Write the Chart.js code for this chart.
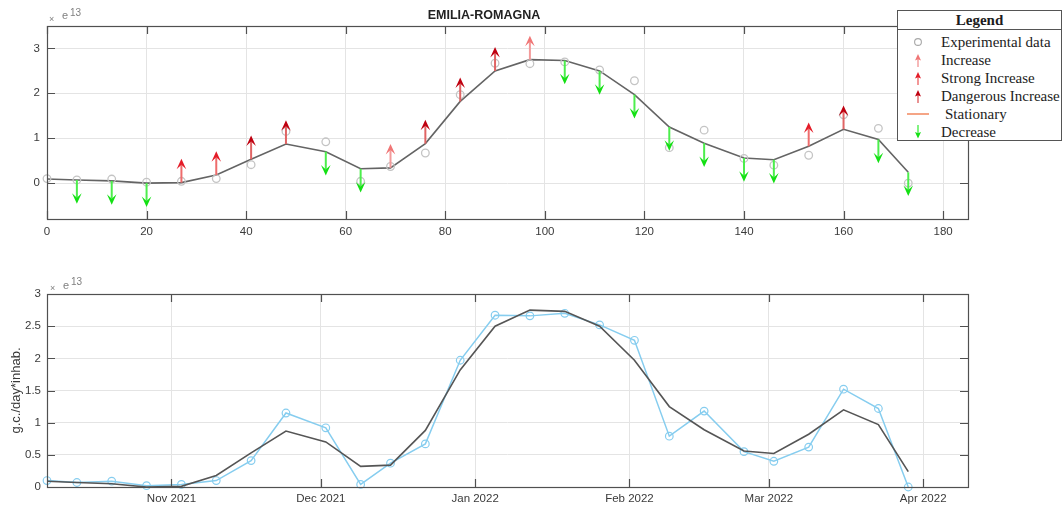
<!DOCTYPE html>
<html>
<head>
<meta charset="utf-8">
<title>EMILIA-ROMAGNA</title>
<script src="https://cdn.jsdelivr.net/npm/chart.js@4.4.1/dist/chart.umd.min.js"></script>
<style>
  html, body { margin: 0; padding: 0; background: #fff; }
  #wrap { position: relative; width: 1062px; height: 511px; overflow: hidden; font-family: "Liberation Sans", Arial, sans-serif; }
  canvas { position: absolute; left: 0; }
  #topChart { top: 0; }
  #bottomChart { top: 250px; }
  .mult { position: absolute; color: #808080; line-height: 1; white-space: nowrap; }
  .legend { position: absolute; left: 897px; top: 10px; width: 163px; height: 129px; border: 1px solid #555; background: #fff;
            font-family: "Liberation Serif", "Times New Roman", serif; color: #1c1c1c; z-index: 2; }
  .legend .head { height: 18px; line-height: 18px; border-bottom: 1px solid #555; text-align: center; font-weight: bold; font-size: 15px; }
  .legend .rows { padding-top: 3px; }
  .legend .row { position: relative; height: 18px; line-height: 18px; font-size: 15px; }
  .legend .row svg { position: absolute; left: 8px; top: 0; }
  .legend .row span { position: absolute; left: 43px; top: 0; white-space: nowrap; }
</style>
</head>
<body>
<div id="wrap">
  <canvas id="topChart" width="1062" height="250"></canvas>
  <canvas id="bottomChart" width="1062" height="261"></canvas>

  <!-- axis multipliers -->
  <span class="mult" style="left:49px;top:15px;font-size:9px;">×</span>
  <span class="mult" style="left:62px;top:10px;font-size:11px;">e</span>
  <span class="mult" style="left:70px;top:8px;font-size:10px;">13</span>
  <span class="mult" style="left:50px;top:284px;font-size:9px;">×</span>
  <span class="mult" style="left:63px;top:280px;font-size:11px;">e</span>
  <span class="mult" style="left:71px;top:277px;font-size:10px;">13</span>

  <div class="legend">
    <div class="head">Legend</div>
    <div class="rows">
      <div class="row">
        <svg width="24" height="18"><circle cx="12" cy="9" r="3.4" fill="none" stroke="#a8a8a8" stroke-width="1.1"/></svg>
        <span>Experimental data</span>
      </div>
      <div class="row">
        <svg width="24" height="18"><line x1="12" y1="16" x2="12" y2="7" stroke="#f39a9a" stroke-width="1.4"/><polygon points="12,3 9,9.5 12,8.3 15,9.5" fill="#f07676"/></svg>
        <span>Increase</span>
      </div>
      <div class="row">
        <svg width="24" height="18"><line x1="12" y1="16" x2="12" y2="7" stroke="#ee6c6c" stroke-width="1.4"/><polygon points="12,3 9,9.5 12,8.3 15,9.5" fill="#e41c28"/></svg>
        <span>Strong Increase</span>
      </div>
      <div class="row">
        <svg width="24" height="18"><line x1="12" y1="16" x2="12" y2="7" stroke="#e06464" stroke-width="1.4"/><polygon points="12,3 9,9.5 12,8.3 15,9.5" fill="#bf0010"/></svg>
        <span>Dangerous Increase</span>
      </div>
      <div class="row">
        <svg width="24" height="18"><line x1="1" y1="9" x2="23" y2="9" stroke="#f5a586" stroke-width="2"/></svg>
        <span style="left:47px;">Stationary</span>
      </div>
      <div class="row">
        <svg width="24" height="18"><line x1="12" y1="2" x2="12" y2="11" stroke="#4cee4c" stroke-width="1.4"/><polygon points="12,15.5 9,9 12,10.2 15,9" fill="#14e014"/></svg>
        <span>Decrease</span>
      </div>
    </div>
  </div>
</div>

<script>
// Sampling days (days since 7 Oct 2021)
const days = [0, 6, 13, 20, 27, 34, 41, 48, 56, 63, 69, 76, 83, 90, 97, 104, 111, 118, 125, 132, 140, 146, 153, 160, 167, 173];

// Measured load, in units of 1e13 g.c./day*inhab.
const experimental = [0.10, 0.07, 0.09, 0.02, 0.04, 0.10, 0.41, 1.15, 0.92, 0.04, 0.37, 0.67, 1.97, 2.67, 2.66, 2.70, 2.52, 2.28, 0.79, 1.18, 0.55, 0.40, 0.62, 1.52, 1.22, 0.00];

// Smoothed trend curve, same units
const smoothed = [0.09, 0.07, 0.05, 0.00, 0.01, 0.18, 0.53, 0.87, 0.70, 0.32, 0.34, 0.88, 1.82, 2.50, 2.75, 2.73, 2.50, 1.97, 1.25, 0.89, 0.56, 0.52, 0.82, 1.20, 0.97, 0.24];

// Trend class at each sample
const trend = [null, 'dec', 'dec', 'dec', 'strong', 'strong', 'dang', 'dang', 'dec', 'dec', 'inc', 'dang', 'dang', 'dang', 'inc',
               'dec', 'dec', 'dec', 'dec', 'dec', 'dec', 'dec', 'strong', 'dang', 'dec', 'dec'];

// Arrow length in value units
const arrowLength = 0.53;

// Tick values / labels
const topXTicks = [0, 20, 40, 60, 80, 100, 120, 140, 160, 180];
const topYTicks = [0, 1, 2, 3];
const bottomYTicks = [0, 0.5, 1, 1.5, 2, 2.5, 3];
const monthTickDays = [25, 55, 86, 117, 145, 176];
const monthTickLabels = ['Nov 2021', 'Dec 2021', 'Jan 2022', 'Feb 2022', 'Mar 2022', 'Apr 2022'];

const FONT = '"Liberation Sans", Arial, Helvetica, sans-serif';
const TICK_COLOR = '#3a3a3a';
const trendStyles = {
  inc:    { head: '#f07676', shaft: '#f39a9a', dir: 1 },
  strong: { head: '#e41c28', shaft: '#ee6c6c', dir: 1 },
  dang:   { head: '#bf0010', shaft: '#e06464', dir: 1 },
  dec:    { head: '#14e014', shaft: '#4cee4c', dir: -1 }
};

const toPoints = ys => days.map((d, i) => ({ x: d, y: ys[i] }));

function drawArrow(ctx, x, y0, y1, st) {
  const s = y1 < y0 ? -1 : 1;          // pixel direction of the arrow
  const hl = 10.5, hw = 4.8, notch = 6;
  ctx.save();
  ctx.lineCap = 'butt';
  ctx.strokeStyle = st.shaft;
  ctx.lineWidth = 2;
  ctx.beginPath();
  ctx.moveTo(x, y0);
  ctx.lineTo(x, y1 - s * notch);
  ctx.stroke();
  ctx.fillStyle = st.head;
  ctx.beginPath();
  ctx.moveTo(x, y1);
  ctx.lineTo(x - hw, y1 - s * hl);
  ctx.lineTo(x, y1 - s * notch);
  ctx.lineTo(x + hw, y1 - s * hl);
  ctx.closePath();
  ctx.fill();
  ctx.restore();
}

// Trend arrows anchored on the smoothed curve
const arrowPlugin = {
  id: 'trendArrows',
  afterDatasetsDraw(chart, args, opts) {
    const { ctx, scales: { x, y } } = chart;
    opts.days.forEach((d, i) => {
      const kind = opts.trend[i];
      if (!kind) return;
      const st = trendStyles[kind];
      const v0 = opts.base[i];
      const v1 = v0 + st.dir * opts.length;
      drawArrow(ctx, x.getPixelForValue(d), y.getPixelForValue(v0), y.getPixelForValue(v1), st);
    });
  }
};

// Closed axes box with inward tick marks on all four sides
const boxPlugin = {
  id: 'axesBox',
  afterDraw(chart) {
    const { ctx, chartArea: { left, right, top, bottom }, scales: { x, y } } = chart;
    const L = 8;
    ctx.save();
    ctx.strokeStyle = '#505050';
    ctx.lineWidth = 1.2;
    ctx.beginPath();
    x.ticks.forEach(t => {
      const px = Math.round(x.getPixelForValue(t.value)) + 0.5;
      ctx.moveTo(px, bottom); ctx.lineTo(px, bottom - L);
      ctx.moveTo(px, top); ctx.lineTo(px, top + L);
    });
    y.ticks.forEach(t => {
      const py = Math.round(y.getPixelForValue(t.value)) + 0.5;
      ctx.moveTo(left, py); ctx.lineTo(left + L, py);
      ctx.moveTo(right, py); ctx.lineTo(right - L, py);
    });
    ctx.stroke();
    ctx.strokeRect(Math.round(left) + 0.5, Math.round(top) + 0.5, Math.round(right - left), Math.round(bottom - top));
    ctx.restore();
  }
};

const gridOpts = { color: '#e4e4e4', lineWidth: 1, drawTicks: false };
const tickFont = { family: FONT, size: 11.5 };

Chart.defaults.font.family = FONT;

// Upper panel: data, smoothed curve and trend arrows
new Chart(document.getElementById('topChart'), {
  type: 'line',
  data: {
    datasets: [
      { label: 'Experimental data', data: toPoints(experimental), showLine: false, pointStyle: 'circle',
        pointRadius: 3.8, pointBorderColor: '#c4c4c4', pointBackgroundColor: 'rgba(0,0,0,0)', pointBorderWidth: 1.3, clip: false },
      { label: 'Smoothed', data: toPoints(smoothed), borderColor: '#646464', borderWidth: 1.6, pointRadius: 0, tension: 0, fill: false }
    ]
  },
  options: {
    responsive: false, animation: false, devicePixelRatio: 1,
    layout: { padding: { left: 0, right: 94, top: 0, bottom: 0 } },
    plugins: {
      legend: { display: false },
      tooltip: { enabled: false },
      title: { display: true, text: 'EMILIA-ROMAGNA', color: '#222', font: { family: FONT, size: 12.5, weight: 'bold' }, padding: { top: 8, bottom: 3 } },
      trendArrows: { days: days, base: smoothed, trend: trend, length: arrowLength }
    },
    scales: {
      x: {
        type: 'linear', min: 0, max: 185,
        afterBuildTicks: s => { s.ticks = topXTicks.map(v => ({ value: v })); },
        afterFit: s => { s.height = 31; },
        grid: gridOpts, border: { display: false },
        ticks: { padding: 6, color: TICK_COLOR, font: tickFont, maxRotation: 0, autoSkip: false, callback: v => String(v) }
      },
      y: {
        type: 'linear', min: -0.8, max: 3.5,
        afterBuildTicks: s => { s.ticks = topYTicks.map(v => ({ value: v })); },
        afterFit: s => { s.width = 47; },
        grid: gridOpts, border: { display: false },
        ticks: { padding: 7, color: TICK_COLOR, font: tickFont, callback: v => String(v) }
      }
    }
  },
  plugins: [arrowPlugin, boxPlugin]
});

// Lower panel: measured series against the smoothed curve on a calendar axis
new Chart(document.getElementById('bottomChart'), {
  type: 'line',
  data: {
    datasets: [
      { label: 'Smoothed', data: toPoints(smoothed), borderColor: '#555555', borderWidth: 1.6, pointRadius: 0, tension: 0, fill: false },
      { label: 'Experimental data', data: toPoints(experimental), borderColor: '#86cdef', borderWidth: 1.5, pointStyle: 'circle',
        pointRadius: 3.8, pointBorderColor: '#86cdef', pointBackgroundColor: 'rgba(0,0,0,0)', pointBorderWidth: 1.2, tension: 0, fill: false, clip: false }
    ]
  },
  options: {
    responsive: false, animation: false, devicePixelRatio: 1,
    layout: { padding: { left: 0, right: 94, top: 44, bottom: 0 } },
    plugins: { legend: { display: false }, tooltip: { enabled: false } },
    scales: {
      x: {
        type: 'linear', min: 0, max: 185,
        afterBuildTicks: s => { s.ticks = monthTickDays.map(v => ({ value: v })); },
        afterFit: s => { s.height = 24; },
        grid: gridOpts, border: { display: false },
        ticks: { padding: 5, color: TICK_COLOR, font: tickFont, maxRotation: 0, autoSkip: false,
                 callback: v => monthTickLabels[monthTickDays.indexOf(v)] }
      },
      y: {
        type: 'linear', min: 0, max: 3,
        afterBuildTicks: s => { s.ticks = bottomYTicks.map(v => ({ value: v })); },
        afterFit: s => { s.width = 47; },
        grid: gridOpts, border: { display: false },
        title: { display: true, text: 'g.c./day*inhab.', color: TICK_COLOR, font: { family: FONT, size: 13 }, padding: { top: 9, bottom: 0 } },
        ticks: { padding: 6, color: TICK_COLOR, font: tickFont, callback: v => String(v) }
      }
    }
  },
  plugins: [boxPlugin]
});
</script>
</body>
</html>
